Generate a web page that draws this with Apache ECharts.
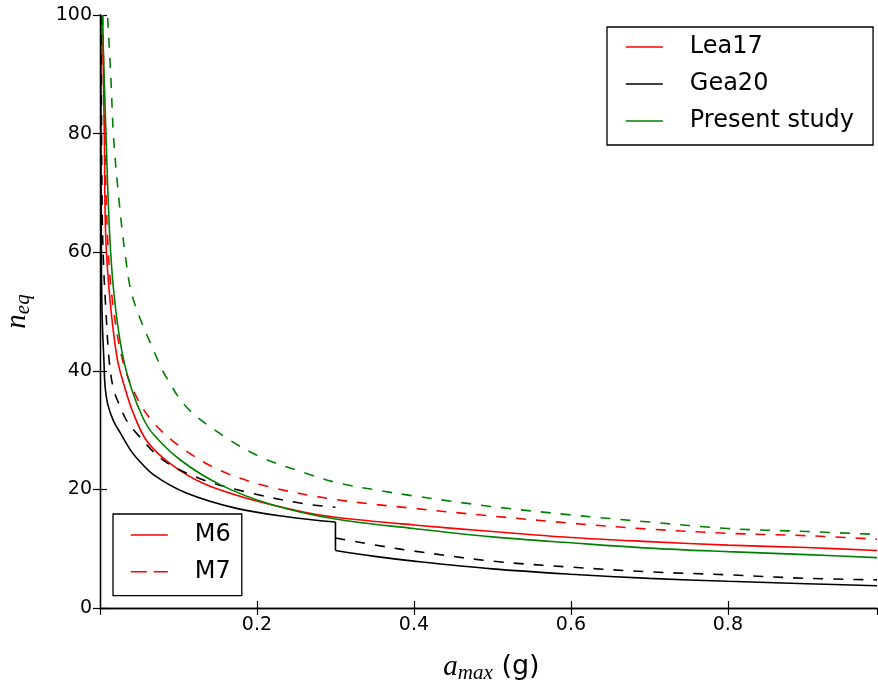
<!DOCTYPE html>
<html><head><meta charset="utf-8">
<script src="https://cdn.jsdelivr.net/npm/echarts@6/dist/echarts.min.js"></script>
<style>html,body{margin:0;padding:0;background:#fff}#c{width:878px;height:690px}</style>
</head><body><div id="c"></div>
<script>
// ---- data (x = a_max in g, y = n_eq) ----
const lea17M6 = [[0.003,100],[0.0055,80],[0.0072,63],[0.0127,52],[0.022,42],[0.032,37],[0.042,33],[0.059,28.3],[0.089,24.4],[0.132,21],[0.195,18.2],[0.259,16.2],[0.3,15.3],[0.4,14.0],[0.5,12.9],[0.6,11.9],[0.7,11.2],[0.8,10.6],[0.9,10.2],[0.99,9.7]];
const lea17M7 = [[0.0035,100],[0.0064,78],[0.0098,62],[0.0157,52],[0.0284,42],[0.0446,36.1],[0.066,31.6],[0.102,27.2],[0.153,23.2],[0.217,20.4],[0.3,18.3],[0.4,16.8],[0.5,15.5],[0.6,14.3],[0.7,13.3],[0.8,12.6],[0.9,12.2],[0.99,11.6]];
const gea20M6Pre = [[0.001,100],[0.0013,75],[0.002,55],[0.003,48],[0.005,41.7],[0.0064,37.5],[0.01,34.3],[0.017,31.6],[0.0255,29.6],[0.038,26.8],[0.0467,25.3],[0.068,22.5],[0.11,19.4],[0.174,16.8],[0.238,15.4],[0.3,14.5]];
const gea20M6Jump = [[0.3,14.5],[0.3,9.7]];
const gea20M6Post = [[0.3,9.7],[0.35,8.7],[0.4,7.9],[0.5,6.6],[0.6,5.7],[0.7,5.0],[0.8,4.5],[0.9,4.1],[0.99,3.75]];
const gea20M7Pre = [[0.0015,100],[0.002,80],[0.003,65],[0.0045,58],[0.0076,50],[0.0115,42],[0.017,37],[0.0255,34],[0.034,31.6],[0.047,29.4],[0.081,24.9],[0.132,21.6],[0.195,19.3],[0.259,17.6],[0.3,17.0]];
const gea20M7Post = [[0.3,11.8],[0.365,10.3],[0.4,9.6],[0.5,7.9],[0.6,6.9],[0.7,6.1],[0.8,5.6],[0.9,5.0],[0.99,4.75]];
const presentM6 = [[0.003,100],[0.0076,80],[0.0123,63],[0.0178,53],[0.0276,43.5],[0.04,37],[0.055,32],[0.068,29.3],[0.102,25],[0.153,20.8],[0.217,17.5],[0.3,15.0],[0.4,13.4],[0.5,12.0],[0.6,11.0],[0.7,10.1],[0.8,9.5],[0.9,9.0],[0.99,8.5]];
const presentM7 = [[0.0098,99.5],[0.014,89],[0.017,80],[0.0233,70],[0.0327,59],[0.0425,52],[0.074,41.7],[0.085,38.8],[0.11,33.9],[0.153,29.4],[0.204,25.5],[0.263,22.7],[0.306,21.0],[0.352,19.9],[0.4,18.9],[0.5,17.1],[0.6,15.7],[0.7,14.5],[0.8,13.4],[0.9,12.9],[0.99,12.4]];
const xRange = [0, 0.99];
const yRange = [0, 100];
const xStep = 0.2;
const yStep = 20;
const colorLegend = ['Lea17', 'Gea20', 'Present study'];
const styleLegend = ['M6', 'M7'];

const RED = '#ff0000', BLACK = '#000000', GREEN = '#008000';
const DASH = [10, 10];
const FONT = 'DejaVu Sans';

function curve(name, data, color, dashed, smooth) {
  return {
    name, type: 'line', data, symbol: 'none', showSymbol: false,
    smooth: smooth === undefined ? 0.35 : smooth, clip: true, silent: true,
    lineStyle: { color, width: 1.6, type: dashed ? DASH : 'solid' },
    itemStyle: { color }, z: 3
  };
}
function dummy(name, color, type) {
  return { name, type: 'line', data: [], symbol: 'none', silent: true,
    lineStyle: { color, width: 1.6, type }, itemStyle: { color } };
}

const chart = echarts.init(document.getElementById('c'), null, { renderer: 'canvas' });
const axisCommon = {
  type: 'value',
  axisLine: { show: true, lineStyle: { color: '#000', width: 1.3 } },
  axisTick: { show: true, inside: true, length: 7, lineStyle: { color: '#000', width: 1.2 } },
  splitLine: { show: false }
};
const legendText = { color: '#000', fontFamily: FONT, fontSize: 24, lineHeight: 26, padding: [0, 0, 0, 22] };
const noSymbol = { color: 'rgba(0,0,0,0)', borderColor: 'rgba(0,0,0,0)', borderWidth: 0, opacity: 0 };

chart.setOption({
  animation: false,
  backgroundColor: '#fff',
  grid: { left: 100, right: 1, top: 15, bottom: 82, show: false, containLabel: false, outerBoundsMode: 'none' },
  xAxis: [
    Object.assign({}, axisCommon, {
      min: xRange[0], max: xRange[1], interval: xStep, position: 'bottom',
      axisLabel: { show: true, showMinLabel: false, showMaxLabel: false, margin: 8,
        color: '#000', fontFamily: FONT, fontSize: 19,
        formatter: v => v.toFixed(1) },
      name: '{a|a}{s|max}{g| (g)}', nameLocation: 'middle', nameGap: 42,
      nameTextStyle: { padding: [0, 0, 0, 6], rich: {
        a: { fontFamily: 'Liberation Serif', fontStyle: 'italic', fontSize: 29, lineHeight: 34, color: '#000' },
        s: { fontFamily: 'Liberation Serif', fontStyle: 'italic', fontSize: 21, lineHeight: 20, verticalAlign: 'bottom', color: '#000' },
        g: { fontFamily: FONT, fontSize: 27, lineHeight: 34, color: '#000' }
      } }
    }),
    Object.assign({}, axisCommon, {
      min: xRange[0], max: xRange[1], interval: xStep, position: 'top',
      axisLabel: { show: false }
    })
  ],
  yAxis: [
    Object.assign({}, axisCommon, {
      min: yRange[0], max: yRange[1], interval: yStep, position: 'left',
      axisLabel: { show: true, margin: 8, color: '#000', fontFamily: FONT, fontSize: 19 },
      name: '{a|n}{s|eq}', nameLocation: 'middle', nameGap: 66, nameRotate: 90,
      nameTextStyle: { rich: {
        a: { fontFamily: 'Liberation Serif', fontStyle: 'italic', fontSize: 29, lineHeight: 34, color: '#000' },
        s: { fontFamily: 'Liberation Serif', fontStyle: 'italic', fontSize: 21, lineHeight: 20, verticalAlign: 'bottom', color: '#000' }
      } }
    }),
    Object.assign({}, axisCommon, {
      min: yRange[0], max: yRange[1], interval: yStep, position: 'right',
      axisLabel: { show: false }
    })
  ],
  legend: [
    {
      data: colorLegend, orient: 'vertical', left: 607, top: 27,
      padding: [7, 19, 11, 18], itemWidth: 37, itemHeight: 14, itemGap: 11,
      backgroundColor: '#fff', borderColor: '#000', borderWidth: 1.3, borderRadius: 0,
      textStyle: legendText, selectedMode: false,
      itemStyle: noSymbol, lineStyle: { width: 1.6 }
    },
    {
      data: styleLegend, orient: 'vertical', left: 113, top: 514,
      padding: [8, 11, 11, 17], itemWidth: 37, itemHeight: 14, itemGap: 10.7,
      backgroundColor: '#fff', borderColor: '#000', borderWidth: 1.3, borderRadius: 0,
      textStyle: legendText, selectedMode: false,
      itemStyle: noSymbol, lineStyle: { width: 1.6 }
    }
  ],
  series: [
    curve('Lea17 M6', lea17M6, RED, false),
    curve('Lea17 M7', lea17M7, RED, true),
    curve('Gea20 M6 a', gea20M6Pre, BLACK, false),
    curve('Gea20 M6 jump', gea20M6Jump, BLACK, false, false),
    curve('Gea20 M6 b', gea20M6Post, BLACK, false),
    curve('Gea20 M7 a', gea20M7Pre, BLACK, true),
    curve('Gea20 M7 b', gea20M7Post, BLACK, true),
    curve('Present M6', presentM6, GREEN, false),
    curve('Present M7', presentM7, GREEN, true),
    dummy('Lea17', RED, 'solid'),
    dummy('Gea20', BLACK, 'solid'),
    dummy('Present study', GREEN, 'solid'),
    dummy('M6', RED, 'solid'),
    dummy('M7', RED, [16, 7])
  ]
});
</script></body></html>
